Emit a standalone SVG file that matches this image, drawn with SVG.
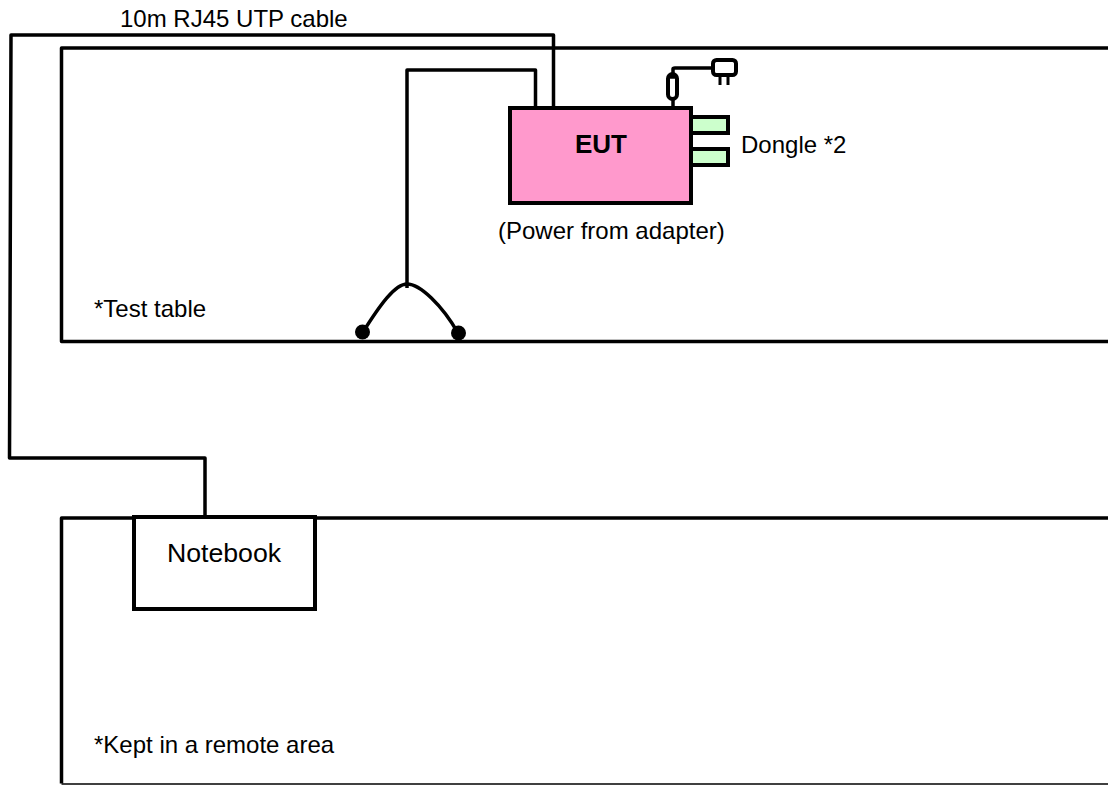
<svg xmlns="http://www.w3.org/2000/svg" width="1108" height="785" viewBox="0 0 1108 785">
<style>
.l{fill:none;stroke:#000;stroke-width:3.5;stroke-linejoin:round}
.t{font-family:"Liberation Sans",Arial,sans-serif;fill:#000}
.s{font-size:24px}
.d{fill:#ccffcc;stroke:#000;stroke-width:4}
</style>
<rect width="1108" height="785" fill="#fff"/>
<g id="test-table"><path class="l" d="M1108 48H61.500V341.500H1108"/><text class="t s" x="94" y="317">*Test table</text></g>
<g id="remote-area"><path class="l" d="M1108 518H61.500V783.500"/><path d="M61.500 784H1108" stroke="#000" stroke-width="1.500"/><text class="t s" x="94" y="753">*Kept in a remote area</text></g>
<g id="connectors">
<path class="l" d="M553.500 106V35H11L9.500 458H205V518"/>
<path class="l" d="M535.500 106V70H407V288"/>
<path class="l" d="M363 332C380 305 395 284 407 284C420 284 442 305 458 333"/>
<path class="l" d="M673 106V100"/>
<path class="l" d="M673 73V69Q673 68 675 68H712"/>
</g>
<g id="junction-left"><circle cx="362.500" cy="332" r="7.500"/></g>
<g id="junction-right"><circle cx="458.500" cy="333" r="7.500"/></g>
<g id="dongle-1"><rect class="d" x="690" y="117" width="38" height="16"/></g>
<g id="dongle-2"><rect class="d" x="690" y="149" width="38" height="16"/></g>
<g id="eut"><rect x="510" y="108" width="181" height="95" fill="#ff99cc" stroke="#000" stroke-width="4"/><text class="t" x="601" y="153" font-size="26px" font-weight="bold" text-anchor="middle">EUT</text></g>
<g id="plug"><rect x="668" y="74" width="9" height="25" rx="4.500" fill="#fff" stroke="#000" stroke-width="4"/><path class="l" d="M668 77H677"/></g>
<g id="adapter"><rect x="713" y="60" width="23" height="15" rx="3.500" fill="#fff" stroke="#000" stroke-width="4"/><path d="M720 76V85M728 76V85" stroke="#000" stroke-width="3"/></g>
<g id="notebook"><rect x="134" y="517" width="181" height="92" fill="#fff" stroke="#000" stroke-width="4"/><text class="t" x="224" y="562" font-size="26.700px" text-anchor="middle">Notebook</text></g>
<text class="t s" x="120" y="27">10m RJ45 UTP cable</text>
<text class="t s" x="741" y="153">Dongle *2</text>
<text class="t s" x="498" y="239">(Power from adapter)</text>
</svg>
